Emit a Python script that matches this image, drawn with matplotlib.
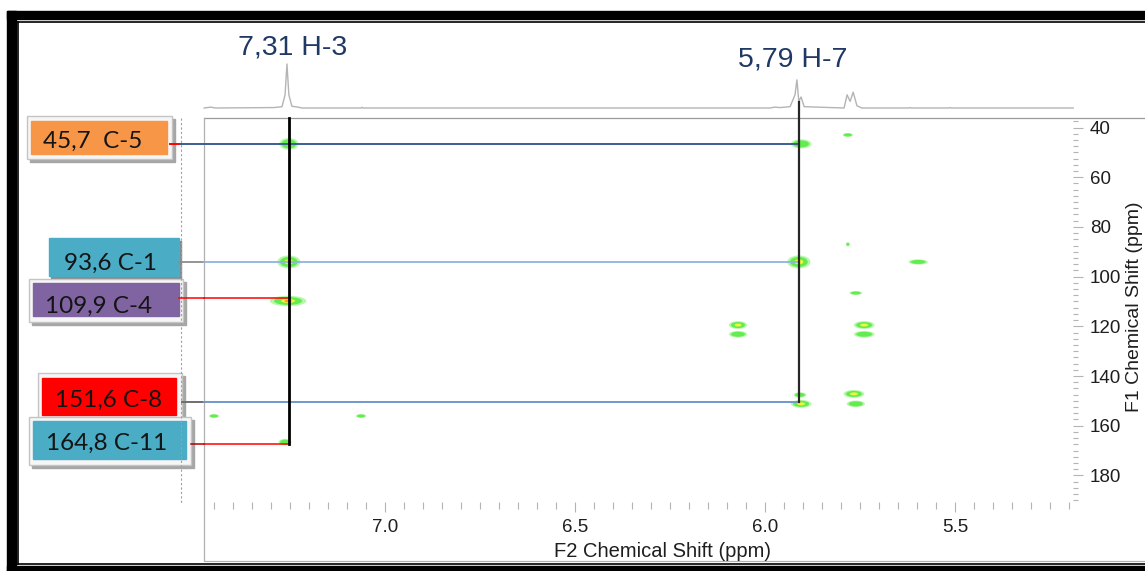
import matplotlib
matplotlib.use("Agg")
import matplotlib.pyplot as plt
from matplotlib.patches import Rectangle, Ellipse
from matplotlib.ticker import MultipleLocator

# --- data ----------------------------------------------------------------
proton_labels = ["7,31 H-3", "5,79 H-7"]
proton_shift = [7.253, 5.911]          # F2 position of the drawn correlation lines

carbon_labels = ["45,7  C-5", "93,6 C-1", "109,9 C-4", "151,6 C-8", "164,8 C-11"]
carbon_shift = [46.6, 94.1, 108.6, 150.3, 167.4]   # F1 position of the drawn rows
carbon_partner = [1, 1, 0, 1, 0]                    # which proton each row runs to

# HMBC cross peaks: F2 (ppm), F1 (ppm), width (ppm), height (ppm), intensity level
peak_f2 = [7.253, 5.905, 5.782, 7.253, 5.911, 5.597, 5.782, 7.255, 5.761, 6.071,
           6.071, 5.739, 5.739, 5.908, 5.905, 5.766, 5.761, 7.450, 7.063, 7.263]
peak_f1 = [46.6, 46.6, 43.0, 94.1, 94.1, 94.1, 87.0, 109.8, 106.6, 119.5,
           123.2, 119.5, 123.2, 147.6, 151.2, 147.2, 151.2, 156.1, 156.1, 166.6]
peak_w = [0.039, 0.042, 0.021, 0.047, 0.047, 0.039, 0.008, 0.074, 0.026, 0.037,
          0.037, 0.042, 0.042, 0.026, 0.042, 0.042, 0.037, 0.021, 0.021, 0.026]
peak_h = [3.6, 2.8, 1.2, 4.0, 4.0, 1.6, 1.2, 3.2, 1.2, 2.4,
          2.0, 2.4, 2.0, 1.6, 2.4, 2.4, 2.0, 1.2, 1.2, 2.0]
peak_level = [1, 1, 1, 3, 2, 1, 1, 3, 1, 2, 1, 2, 1, 1, 2, 2, 1, 1, 1, 1]

# 1H projection trace along the top (ppm, relative intensity)
spec_f2 = [7.476, 7.458, 7.447, 7.292, 7.271, 7.263, 7.258, 7.253, 7.245, 7.229,
           7.218, 7.063, 7.061, 7.058, 5.987, 5.974, 5.961, 5.934, 5.921, 5.916,
           5.911, 5.905, 5.897, 5.792, 5.784, 5.776, 5.768, 5.758, 5.745, 5.621,
           5.618, 5.615, 5.516, 5.513, 5.510, 5.189]
spec_int = [0, 0.02, 0, 0.01, 0.03, 0.3, 1.0, 0.3, 0.04, 0.02,
            0, 0, 0.015, 0, 0, 0.02, 0.01, 0.03, 0.3, 0.64,
            0.15, 0.25, 0.03, 0, 0.3, 0.15, 0.36, 0.05, 0, 0,
            0.01, 0, 0, 0.01, 0, 0]

# --- layout (pixels of the 1145x571 canvas) --------------------------------
W, H = 1145, 571
plt.rcParams["font.family"] = ["Liberation Sans", "DejaVu Sans"]


def fx(px):
    return px / W


def fy(py):
    return 1 - py / H


def f2_px(px):
    # pixel column -> F2 ppm on the main axes
    return 7.0 - (px - 385) / 380


def f1_px(py):
    # pixel row -> F1 ppm on the main axes
    return 40 + (py - 127.5) / 2.485


box_style = [
    dict(fill="#F79646", frame=(27, 116, 172, 159), inner=(31, 121, 167, 154), text=(93, 148),
         lead=("#FF0000", 170, 181), line="#3B5E93", lw=1.4),
    dict(fill="#4BACC6", frame=None, inner=(49, 238, 179, 276), text=(110, 270),
         lead=("#8C8C8C", 179, 204), line="#8EB4E3", lw=1.3),
    dict(fill="#8064A2", frame=(29, 279, 183, 322), inner=(33, 283, 179, 316), text=(99, 313),
         lead=("#FF0000", 179, 204), line="#FF0000", lw=1.1),
    dict(fill="#FF0000", frame=(38, 373, 182, 418), inner=(42, 378, 176, 415), text=(109, 407),
         lead=("#6E6E6E", 182, 204), line="#7098CC", lw=1.4),
    dict(fill="#4BACC6", frame=(29, 417, 191, 465), inner=(33, 421, 186, 459), text=(107, 450),
         lead=("#B00000", 191, 204), line="#FF0000", lw=1.1),
]

fig = plt.figure(figsize=(W / 100, H / 100), dpi=100)

# overlay in pixel coordinates: page frame, label boxes
ov = fig.add_axes([0, 0, 1, 1], zorder=0)
ov.set_xlim(0, W)
ov.set_ylim(H, 0)
ov.axis("off")

ov.add_patch(Rectangle((7, 11), W, 8, color="black"))
ov.add_patch(Rectangle((7, 11), 8.5, H, color="black"))
ov.add_patch(Rectangle((7, 566), W, 10, color="black"))
ov.plot([17, W], [21.5, 21.5], color="black", lw=1.2)
ov.plot([17.5, 17.5], [21.5, 564], color="black", lw=1.2)
ov.plot([17.5, W], [563.5, 563.5], color="black", lw=1.2)

ov.plot([204, W], [118, 118], color="#9a9a9a", lw=0.9)
ov.plot([204, 204], [118, 560], color="#b0b0b0", lw=0.9)
ov.plot([204, W], [560.5, 560.5], color="#b0b0b0", lw=0.9)
ov.plot([181, 181], [118, 503], color="#a0a0a0", lw=0.8, ls=(0, (2, 2)))

for lab, st in zip(carbon_labels, box_style):
    if st["frame"] is not None:
        x0, y0, x1, y1 = st["frame"]
        ov.add_patch(Rectangle((x0 + 3, y0 + 3), x1 - x0, y1 - y0, color="#a6a6a6"))
        ov.add_patch(Rectangle((x0, y0), x1 - x0, y1 - y0, facecolor="#f6f6f6",
                               edgecolor="#c4c4c4", lw=1))
    else:
        x0, y0, x1, y1 = st["inner"]
        ov.add_patch(Rectangle((x0 + 2, y0 + 3), x1 - x0, y1 - y0, color="#8a8a8a"))
    x0, y0, x1, y1 = st["inner"]
    ov.add_patch(Rectangle((x0, y0), x1 - x0, y1 - y0, color=st["fill"]))
    tx, ty = st["text"]
    ov.text(tx, ty, lab, ha="center", va="baseline", fontsize=17.5,
            family=["Lato", "DejaVu Sans"], color="#141414")

# 1H projection
sp = fig.add_axes([fx(204), fy(108), fx(1073) - fx(204), fy(64) - fy(108)], zorder=1)
sp.set_xlim(f2_px(204), f2_px(1073))
sp.set_ylim(0, 1)
sp.axis("off")
sp.plot(spec_f2, spec_int, color="#b4b4b4", lw=1.0, clip_on=False)

# main 2D axes
ax = fig.add_axes([fx(204), fy(502), fx(1073) - fx(204), fy(118) - fy(502)], zorder=2)
ax.patch.set_alpha(0)
ax.set_xlim(f2_px(204), f2_px(1073))
ax.set_ylim(f1_px(502), f1_px(118))
for s in ax.spines.values():
    s.set_visible(False)
ax.xaxis.set_major_locator(MultipleLocator(0.5))
ax.xaxis.set_minor_locator(MultipleLocator(0.05))
ax.yaxis.set_major_locator(MultipleLocator(20))
ax.yaxis.set_minor_locator(MultipleLocator(2.5))
ax.yaxis.tick_right()
ax.tick_params(which="both", direction="out", color="#b4b4b4", width=0.8,
               labelsize=13.5, labelcolor="#1e1e1e")
ax.tick_params(axis="x", which="major", length=7, pad=5)
ax.tick_params(axis="x", which="minor", length=5)
ax.tick_params(axis="y", which="major", length=7, pad=5)
ax.tick_params(axis="y", which="minor", length=3.6)

# cross peaks
for x, y, w, h, lev in zip(peak_f2, peak_f1, peak_w, peak_h, peak_level):
    ax.add_patch(Ellipse((x, y), w * 1.3, h * 1.3, color="#b6f7a8", lw=0, zorder=2))
    ax.add_patch(Ellipse((x, y), w, h, color="#62ec50", lw=0, zorder=2))
    if lev >= 2:
        ax.add_patch(Ellipse((x, y), w * 0.5, h * 0.5, color="#f2f53a", lw=0, zorder=2))
    if lev >= 3:
        ax.add_patch(Ellipse((x, y), w * 0.25, h * 0.35, color="#ff9a2a", lw=0, zorder=2))

# correlation rows from the label boxes to the proton lines
for c, p, st in zip(carbon_shift, carbon_partner, box_style):
    col, a, b = st["lead"]
    ax.plot([f2_px(a), f2_px(b)], [c, c], color=col, lw=st["lw"], clip_on=False, zorder=3)
    ax.plot([f2_px(b), proton_shift[p]], [c, c], color=st["line"], lw=st["lw"],
            clip_on=False, zorder=3)

# proton columns
h_top = [f1_px(118), f1_px(102)]
h_col = ["#000000", "#262626"]
h_lw = [2.0, 1.6]
for i, x in enumerate(proton_shift):
    bottom = max(c for c, p in zip(carbon_shift, carbon_partner) if p == i)
    ax.plot([x, x], [h_top[i], bottom], color=h_col[i], lw=h_lw[i], clip_on=False, zorder=4)

fig.text(fx(293), fy(55), proton_labels[0], ha="center", va="baseline", fontsize=20.5,
         color="#1F3864")
fig.text(fx(793), fy(66), proton_labels[1], ha="center", va="baseline", fontsize=20.5,
         color="#1F3864")

fig.text(fx(663), fy(557), "F2 Chemical Shift (ppm)", ha="center", va="baseline",
         fontsize=14.5, color="#1e1e1e")
fig.text(fx(1143), fy(307), "F1 Chemical Shift (ppm)", ha="right", va="center",
         rotation=90, fontsize=14, color="#1e1e1e")

fig.savefig("out.png", dpi=100)
